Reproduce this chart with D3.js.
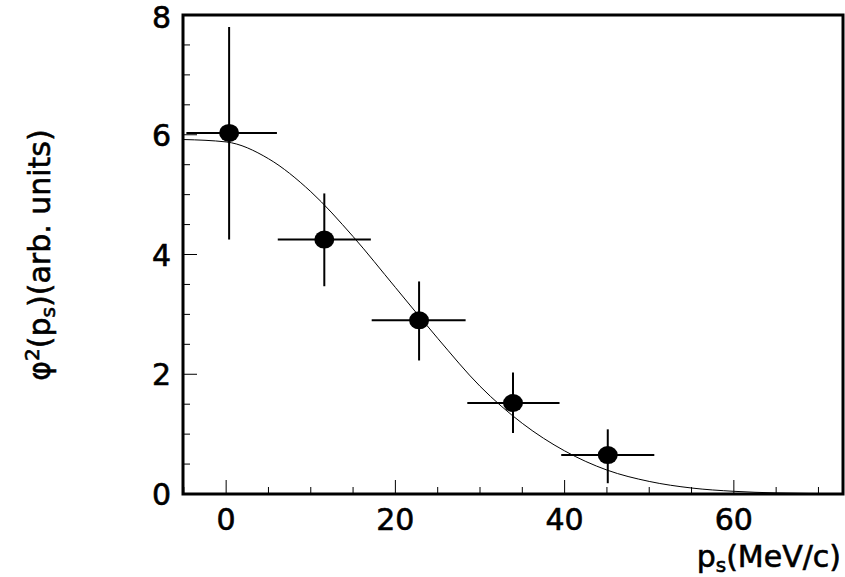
<!DOCTYPE html><html><head><script src="https://cdn.jsdelivr.net/npm/d3@7"></script>
<style>body{margin:0;background:#fff}</style></head><body><svg width="845" height="577"></svg>
<script>
const px=[0.35,11.6,22.8,33.9,45.1];
const py=[6.03,4.25,2.9,1.52,0.65];
const xlo=[-4.7,6.1,17.2,28.5,39.6];
const xhi=[6.0,17.1,28.3,39.4,50.6];
const ylo=[4.25,3.47,2.23,1.02,0.18];
const yhi=[7.8,5.02,3.55,2.03,1.08];
const cx=[-5,0,5,10,15,20,25,30,35,40,45,50,55,60,65,72.7];
const cy=[5.92,5.88,5.6,5.05,4.3,3.45,2.6,1.8,1.18,0.72,0.4,0.21,0.1,0.045,0.018,0.005];
const xTicks=[0,20,40,60], yTicks=[0,2,4,6,8];
const svg=d3.select("svg");
const L=183,R=843,T=15,B=494;
const x=d3.scaleLinear().domain([-5.1,72.9]).range([L,R]);
const y=d3.scaleLinear().domain([0,8]).range([B,T]);
const f="font-family:'DejaVu Sans';font-size:30px;stroke:#000;stroke-width:0.6";
for(let v=-5;v<=72.9;v+=5){const maj=v%20===0;svg.append("line").attr("x1",x(v)).attr("x2",x(v)).attr("y1",B).attr("y2",B-(maj?14:7)).attr("stroke","#000");}
for(let v=0;v<=8;v+=0.5){const maj=v%2===0;svg.append("line").attr("x1",L).attr("x2",L+(maj?14:7)).attr("y1",y(v)).attr("y2",y(v)).attr("stroke","#000");}
xTicks.forEach(v=>svg.append("text").attr("x",x(v)).attr("y",B+36).attr("text-anchor","middle").attr("style",f).text(v));
yTicks.forEach(v=>svg.append("text").attr("x",L-12).attr("y",y(v)+(v===8?13:11)).attr("text-anchor","end").attr("style",f).text(v));
svg.append("rect").attr("x",L).attr("y",T).attr("width",R-L).attr("height",B-T).attr("fill","none").attr("stroke","#000").attr("stroke-width",3);
svg.append("path").datum(cx.map((v,i)=>[v,cy[i]])).attr("d",d3.line().x(d=>x(d[0])).y(d=>y(d[1])).curve(d3.curveMonotoneX)).attr("fill","none").attr("stroke","#000").attr("stroke-width",1);
px.forEach((v,i)=>{
 svg.append("line").attr("x1",x(xlo[i])).attr("x2",x(xhi[i])).attr("y1",y(py[i])).attr("y2",y(py[i])).attr("stroke","#000").attr("stroke-width",2);
 svg.append("line").attr("x1",x(v)).attr("x2",x(v)).attr("y1",y(ylo[i])).attr("y2",y(yhi[i])).attr("stroke","#000").attr("stroke-width",2);
 svg.append("ellipse").attr("cx",x(v)).attr("cy",y(py[i])).attr("rx",10).attr("ry",9).attr("fill","#000");
});
svg.append("text").attr("x",R-2).attr("y",567).attr("text-anchor","end").attr("style",f).html('p<tspan font-size="20" dy="5">s</tspan><tspan dy="-5">(MeV/c)</tspan>');
svg.append("text").attr("transform","translate(50,255) rotate(-90)").attr("text-anchor","middle").attr("style",f).html('φ<tspan font-size="20" dy="-11">2</tspan><tspan dy="11">(p</tspan><tspan font-size="20" dy="5">s</tspan><tspan dy="-5">)(arb. units)</tspan>');
</script></body></html>
